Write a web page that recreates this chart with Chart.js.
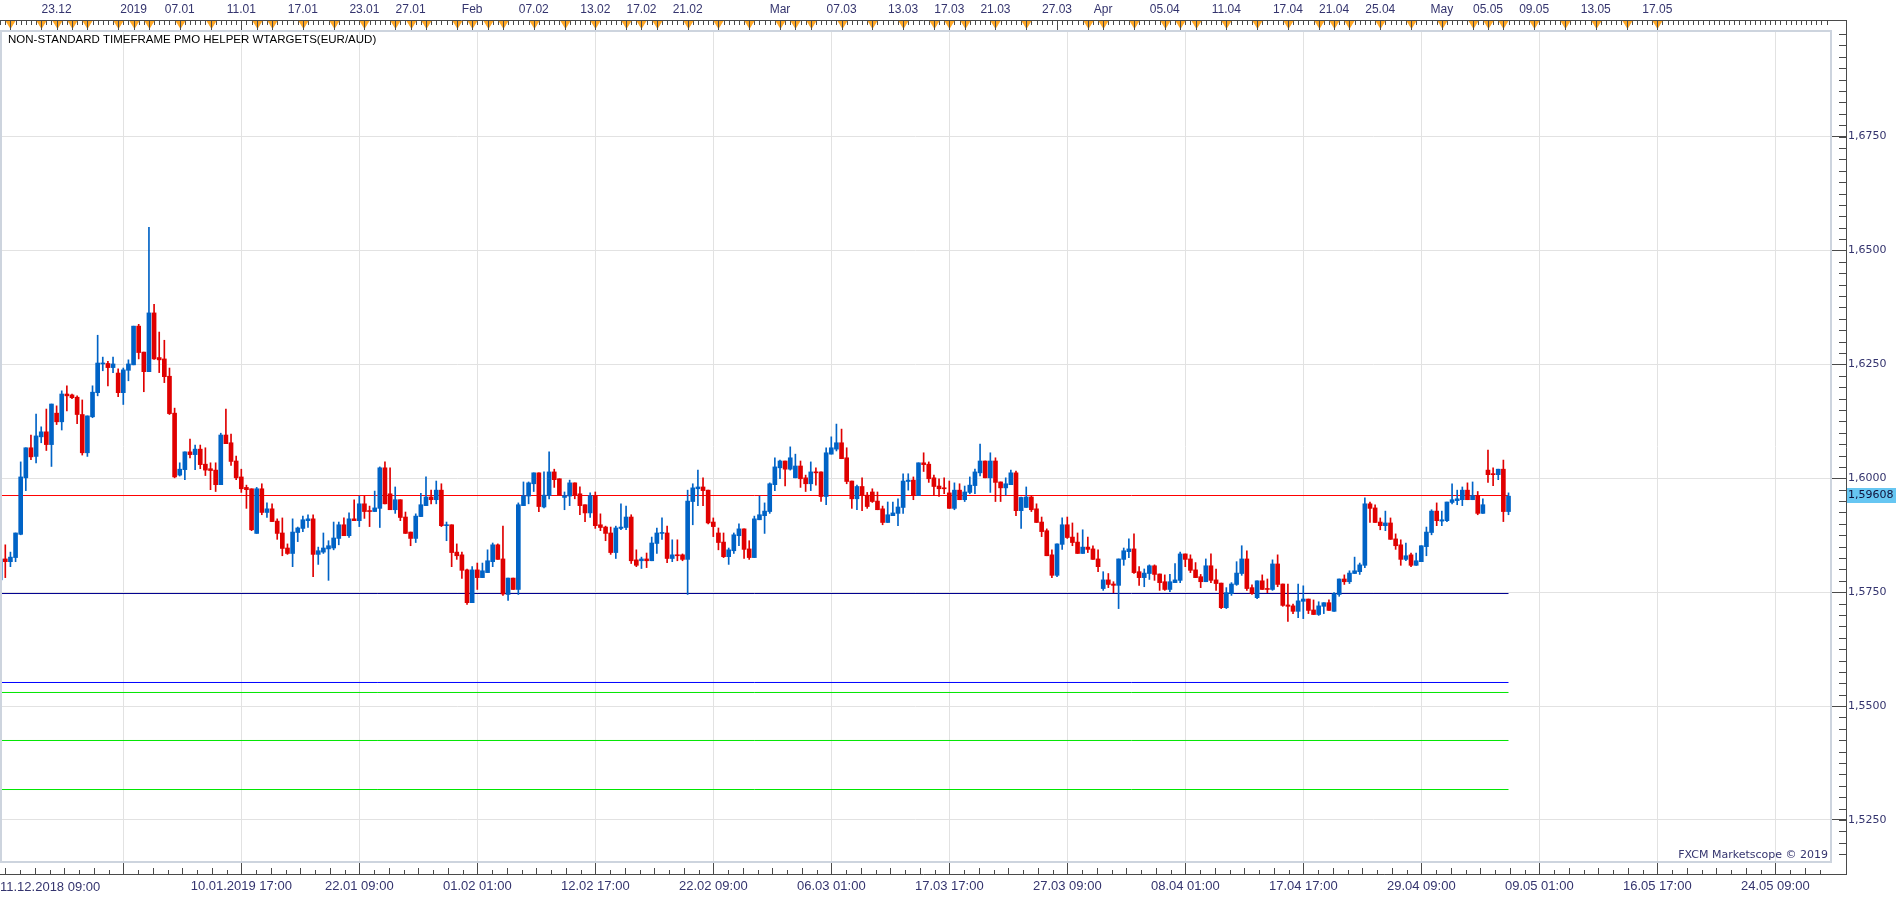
<!DOCTYPE html>
<html><head><meta charset="utf-8">
<script src="https://cdn.jsdelivr.net/npm/chart.js@4.4.1/dist/chart.umd.min.js"></script>
<style>html,body{margin:0;padding:0;background:#fff;overflow:hidden}canvas{display:block}</style>
</head><body>
<canvas id="c" width="1903" height="900" style="width:1903px;height:900px"></canvas>
<script>
// ---- data (EUR/AUD, 8h bars) ----
const opens = [1.5777,1.5823,1.5817,1.5826,1.5877,1.6001,1.6067,1.6048,1.6091,1.6102,1.6074,1.6143,1.6124,1.6185,1.6183,1.6178,1.6140,1.6056,1.6135,1.6188,
1.6251,1.6252,1.6243,1.6231,1.6188,1.6237,1.6249,1.6334,1.6277,1.6234,1.6363,1.6265,1.6262,1.6224,1.6143,1.6007,1.6019,1.6058,1.6052,1.6064,
1.6031,1.6021,1.6018,1.5986,1.6095,1.6078,1.6038,1.6003,1.5980,1.5977,1.5879,1.5977,1.5925,1.5933,1.5906,1.5880,1.5847,1.5835,1.5881,1.5890,
1.5907,1.5911,1.5833,1.5838,1.5845,1.5847,1.5868,1.5898,1.5874,1.5911,1.5907,1.5944,1.5929,1.5927,1.5934,1.6023,1.5966,1.5931,1.5953,1.5915,
1.5882,1.5868,1.5916,1.5940,1.5959,1.5953,1.5974,1.5896,1.5898,1.5838,1.5832,1.5799,1.5727,1.5799,1.5782,1.5793,1.5817,1.5854,1.5823,1.5745,
1.5781,1.5756,1.5940,1.5961,1.5988,1.6012,1.5937,1.5962,1.6014,1.5999,1.5958,1.5961,1.5990,1.5966,1.5942,1.5924,1.5962,1.5898,1.5893,1.5880,
1.5837,1.5890,1.5892,1.5915,1.5821,1.5819,1.5823,1.5819,1.5857,1.5879,1.5880,1.5824,1.5832,1.5832,1.5822,1.5949,1.5977,1.5981,1.5974,1.5904,
1.5880,1.5860,1.5828,1.5841,1.5874,1.5889,1.5845,1.5826,1.5909,1.5918,1.5927,1.5986,1.6023,1.6038,1.6020,1.6001,1.6027,1.6001,1.5988,1.6014,
1.6014,1.5960,1.6053,1.6064,1.6078,1.6045,1.5994,1.5955,1.5982,1.5963,1.5970,1.5950,1.5933,1.5903,1.5918,1.5923,1.5936,1.5993,1.5996,1.5962,
1.6034,1.6031,1.6001,1.5983,1.5979,1.5968,1.5934,1.5974,1.5953,1.5969,1.5984,1.6012,1.6038,1.6001,1.6038,1.5992,1.5979,1.5986,1.6012,1.5929,
1.5936,1.5959,1.5933,1.5904,1.5885,1.5832,1.5787,1.5855,1.5898,1.5871,1.5860,1.5835,1.5849,1.5845,1.5823,1.5758,1.5777,1.5768,1.5765,1.5822,
1.5839,1.5845,1.5795,1.5782,1.5791,1.5808,1.5790,1.5773,1.5756,1.5771,1.5776,1.5834,1.5823,1.5799,1.5784,1.5773,1.5808,1.5777,1.5770,1.5716,
1.5747,1.5767,1.5791,1.5823,1.5760,1.5738,1.5775,1.5758,1.5756,1.5812,1.5768,1.5722,1.5720,1.5708,1.5730,1.5735,1.5711,1.5701,1.5719,1.5727,
1.5708,1.5745,1.5779,1.5773,1.5791,1.5795,1.5809,1.5944,1.5935,1.5904,1.5896,1.5902,1.5867,1.5854,1.5822,1.5832,1.5809,1.5817,1.5850,1.5881,
1.5928,1.5906,1.5907,1.5947,1.5951,1.5953,1.5974,1.5953,1.5962,1.5923,1.6018,1.6010,1.6008,1.6020,1.5927];
const highs = [1.5828,1.5854,1.5838,1.5880,1.6036,1.6067,1.6095,1.6141,1.6113,1.6152,1.6163,1.6159,1.6192,1.6203,1.6185,1.6181,1.6172,1.6137,1.6203,1.6314,
1.6266,1.6257,1.6266,1.6240,1.6242,1.6260,1.6334,1.6338,1.6277,1.6551,1.6382,1.6321,1.6303,1.6242,1.6154,1.6034,1.6058,1.6086,1.6073,1.6073,
1.6067,1.6034,1.6034,1.6099,1.6152,1.6097,1.6049,1.6020,1.5985,1.5977,1.5980,1.5988,1.5946,1.5944,1.5911,1.5913,1.5856,1.5911,1.5893,1.5917,
1.5920,1.5920,1.5849,1.5880,1.5863,1.5904,1.5904,1.5913,1.5924,1.5953,1.5961,1.5961,1.5939,1.5972,1.6025,1.6036,1.6023,1.5981,1.5953,1.5926,
1.5882,1.5922,1.5967,1.6003,1.5974,1.5994,1.5988,1.5904,1.5898,1.5856,1.5838,1.5801,1.5806,1.5814,1.5814,1.5843,1.5858,1.5856,1.5895,1.5781,
1.5781,1.5946,1.5992,1.5992,1.6012,1.6012,1.6014,1.6058,1.6020,1.5999,1.5970,1.5996,1.5990,1.5981,1.5942,1.5968,1.5970,1.5922,1.5895,1.5893,
1.5895,1.5944,1.5939,1.5920,1.5843,1.5827,1.5836,1.5871,1.5891,1.5913,1.5895,1.5865,1.5865,1.5834,1.5974,1.5988,1.6018,1.6001,1.5974,1.5913,
1.5891,1.5880,1.5847,1.5880,1.5900,1.5889,1.5863,1.5917,1.5961,1.5946,1.5990,1.6045,1.6040,1.6038,1.6069,1.6053,1.6038,1.6007,1.6036,1.6023,
1.6014,1.6067,1.6091,1.6119,1.6108,1.6067,1.5994,1.5985,1.6001,1.5969,1.5977,1.5970,1.5939,1.5948,1.5948,1.5955,1.6010,1.6010,1.6003,1.6034,
1.6056,1.6036,1.6007,1.5999,1.6001,1.5994,1.5990,1.5988,1.5983,1.6003,1.6020,1.6075,1.6038,1.6056,1.6045,1.5992,1.6001,1.6018,1.6016,1.5959,
1.5981,1.5961,1.5944,1.5915,1.5889,1.5843,1.5856,1.5913,1.5915,1.5902,1.5880,1.5887,1.5871,1.5852,1.5843,1.5795,1.5791,1.5773,1.5823,1.5847,
1.5867,1.5878,1.5806,1.5801,1.5810,1.5810,1.5790,1.5788,1.5789,1.5813,1.5838,1.5834,1.5832,1.5815,1.5789,1.5823,1.5834,1.5801,1.5770,1.5760,
1.5771,1.5817,1.5852,1.5841,1.5766,1.5775,1.5788,1.5779,1.5821,1.5832,1.5768,1.5768,1.5724,1.5768,1.5764,1.5735,1.5733,1.5729,1.5727,1.5733,
1.5749,1.5779,1.5788,1.5797,1.5827,1.5814,1.5957,1.5948,1.5942,1.5913,1.5928,1.5913,1.5878,1.5865,1.5858,1.5836,1.5836,1.5852,1.5893,1.5931,
1.5946,1.5928,1.5948,1.5988,1.5974,1.5981,1.5990,1.5992,1.5971,1.5955,1.6062,1.6023,1.6020,1.6040,1.5968];
const lows = [1.5773,1.5782,1.5806,1.5817,1.5876,1.5973,1.6041,1.6034,1.6078,1.6061,1.6026,1.6118,1.6106,1.6148,1.6175,1.6120,1.6051,1.6048,1.6133,1.6181,
1.6236,1.6203,1.6232,1.6179,1.6162,1.6214,1.6249,1.6262,1.6190,1.6234,1.6261,1.6232,1.6210,1.6140,1.6001,1.6005,1.5997,1.6045,1.6019,1.6021,
1.6006,1.5975,1.5971,1.5986,1.6076,1.6028,1.5997,1.5969,1.5934,1.5885,1.5879,1.5920,1.5914,1.5905,1.5866,1.5830,1.5833,1.5806,1.5861,1.5883,
1.5892,1.5784,1.5811,1.5835,1.5776,1.5843,1.5854,1.5874,1.5870,1.5907,1.5894,1.5912,1.5894,1.5927,1.5892,1.5944,1.5931,1.5923,1.5907,1.5879,
1.5852,1.5859,1.5916,1.5940,1.5944,1.5944,1.5894,1.5863,1.5806,1.5822,1.5780,1.5723,1.5727,1.5756,1.5782,1.5793,1.5806,1.5822,1.5743,1.5732,
1.5756,1.5745,1.5940,1.5944,1.5971,1.5927,1.5935,1.5955,1.5980,1.5962,1.5931,1.5940,1.5955,1.5920,1.5905,1.5914,1.5890,1.5885,1.5863,1.5833,
1.5824,1.5887,1.5887,1.5813,1.5806,1.5802,1.5804,1.5819,1.5835,1.5866,1.5815,1.5817,1.5819,1.5819,1.5745,1.5898,1.5940,1.5940,1.5900,1.5872,
1.5843,1.5826,1.5811,1.5835,1.5852,1.5824,1.5822,1.5826,1.5909,1.5879,1.5923,1.5973,1.5999,1.5983,1.6018,1.6001,1.5980,1.5971,1.5973,1.5985,
1.5949,1.5942,1.6053,1.6060,1.6043,1.5988,1.5934,1.5931,1.5929,1.5934,1.5947,1.5931,1.5898,1.5903,1.5918,1.5896,1.5923,1.5974,1.5953,1.5962,
1.6015,1.5991,1.5962,1.5960,1.5966,1.5934,1.5931,1.5953,1.5949,1.5966,1.5966,1.6005,1.6001,1.5969,1.5949,1.5949,1.5963,1.5986,1.5918,1.5890,
1.5936,1.5927,1.5903,1.5872,1.5830,1.5782,1.5784,1.5844,1.5868,1.5852,1.5835,1.5835,1.5837,1.5822,1.5795,1.5754,1.5760,1.5749,1.5714,1.5809,
1.5826,1.5791,1.5765,1.5762,1.5778,1.5776,1.5754,1.5754,1.5751,1.5771,1.5771,1.5806,1.5793,1.5782,1.5760,1.5773,1.5771,1.5754,1.5714,1.5714,
1.5743,1.5765,1.5787,1.5754,1.5745,1.5736,1.5756,1.5749,1.5754,1.5762,1.5719,1.5686,1.5703,1.5694,1.5692,1.5703,1.5701,1.5699,1.5703,1.5710,
1.5708,1.5741,1.5767,1.5769,1.5791,1.5789,1.5804,1.5903,1.5903,1.5887,1.5885,1.5866,1.5844,1.5809,1.5819,1.5806,1.5809,1.5817,1.5830,1.5876,
1.5896,1.5896,1.5905,1.5944,1.5942,1.5940,1.5953,1.5953,1.5920,1.5923,1.5991,1.5984,1.5997,1.5905,1.5920];
const closes = [1.5823,1.5817,1.5827,1.5880,1.6003,1.6067,1.6047,1.6093,1.6102,1.6074,1.6163,1.6124,1.6185,1.6181,1.6177,1.6140,1.6056,1.6137,1.6189,1.6253,
1.6253,1.6243,1.6251,1.6188,1.6238,1.6251,1.6334,1.6276,1.6234,1.6363,1.6262,1.6260,1.6223,1.6142,1.6003,1.6020,1.6058,1.6052,1.6064,1.6030,
1.6018,1.6017,1.5986,1.6095,1.6076,1.6037,1.6001,1.5977,1.5975,1.5887,1.5977,1.5925,1.5933,1.5905,1.5879,1.5846,1.5835,1.5882,1.5891,1.5909,
1.5911,1.5833,1.5841,1.5847,1.5852,1.5869,1.5898,1.5874,1.5911,1.5907,1.5944,1.5927,1.5927,1.5935,1.6023,1.5944,1.5931,1.5953,1.5914,1.5879,
1.5868,1.5917,1.5942,1.5959,1.5953,1.5974,1.5896,1.5898,1.5837,1.5830,1.5798,1.5727,1.5799,1.5782,1.5797,1.5819,1.5854,1.5822,1.5746,1.5781,
1.5756,1.5942,1.5962,1.5990,1.6012,1.5938,1.5963,1.6014,1.5997,1.5962,1.5962,1.5990,1.5962,1.5940,1.5924,1.5962,1.5896,1.5892,1.5879,1.5837,
1.5891,1.5893,1.5915,1.5819,1.5809,1.5823,1.5819,1.5858,1.5880,1.5880,1.5824,1.5832,1.5830,1.5822,1.5950,1.5979,1.5981,1.5973,1.5902,1.5894,
1.5859,1.5828,1.5843,1.5876,1.5889,1.5844,1.5826,1.5911,1.5920,1.5928,1.5988,1.6025,1.6038,1.6020,1.6045,1.6027,1.5999,1.5988,1.6014,1.6012,
1.5960,1.6056,1.6067,1.6078,1.6043,1.5993,1.5955,1.5982,1.5963,1.5938,1.5949,1.5931,1.5903,1.5920,1.5924,1.5937,1.5994,1.5996,1.5962,1.6034,
1.6030,1.5999,1.5982,1.5977,1.5977,1.5934,1.5974,1.5953,1.5970,1.5985,1.6014,1.6038,1.6001,1.6038,1.5991,1.5979,1.5988,1.6012,1.5929,1.5958,
1.5959,1.5931,1.5903,1.5883,1.5830,1.5787,1.5856,1.5898,1.5870,1.5859,1.5835,1.5849,1.5844,1.5822,1.5806,1.5777,1.5767,1.5765,1.5823,1.5841,
1.5845,1.5793,1.5782,1.5792,1.5808,1.5789,1.5771,1.5756,1.5773,1.5777,1.5834,1.5822,1.5798,1.5782,1.5773,1.5808,1.5776,1.5769,1.5716,1.5749,
1.5768,1.5792,1.5823,1.5758,1.5747,1.5775,1.5756,1.5756,1.5812,1.5767,1.5721,1.5719,1.5708,1.5731,1.5735,1.5710,1.5701,1.5720,1.5727,1.5710,
1.5747,1.5779,1.5773,1.5792,1.5797,1.5810,1.5944,1.5934,1.5903,1.5896,1.5902,1.5866,1.5852,1.5822,1.5830,1.5809,1.5819,1.5852,1.5882,1.5928,
1.5907,1.5909,1.5948,1.5953,1.5955,1.5974,1.5953,1.5962,1.5923,1.5942,1.6008,1.6008,1.6020,1.5927,1.59608];

const priceTicks = [1.5250, 1.5500, 1.5750, 1.6000, 1.6250, 1.6500, 1.6750];
const bottomTickBars = [24, 47, 70, 93, 116, 139, 162, 185, 208, 231, 254, 277, 300, 323, 346];
const bottomTickLabels = ['', '10.01.2019 17:00', '22.01 09:00', '01.02 01:00', '12.02 17:00', '22.02 09:00', '06.03 01:00', '17.03 17:00', '27.03 09:00', '08.04 01:00', '17.04 17:00', '29.04 09:00', '09.05 01:00', '16.05 17:00', '24.05 09:00'];
const firstBottomLabel = '11.12.2018 09:00';
const topTickBars = [11, 26, 35, 47, 59, 71, 80, 92, 104, 116, 125, 134, 152, 164, 176, 185, 194, 206, 215, 227, 239, 251, 260, 269, 281, 290, 299, 311, 323];
const topTickLabels = ['23.12', '2019', '07.01', '11.01', '17.01', '23.01', '27.01', 'Feb', '07.02', '13.02', '17.02', '21.02', 'Mar', '07.03', '13.03', '17.03', '21.03', '27.03', 'Apr', '05.04', '11.04', '17.04', '21.04', '25.04', 'May', '05.05', '09.05', '13.05', '17.05'];
const eventBars = [2, 8, 11, 14, 17, 23, 26, 29, 35, 41, 50, 53, 59, 65, 71, 77, 80, 83, 89, 92, 95, 98, 104, 110, 116, 122, 125, 128, 134, 140, 146, 152, 155, 158, 164, 170, 176, 182, 185, 188, 194, 200, 212, 215, 221, 227, 230, 233, 239, 245, 251, 257, 260, 263, 269, 275, 281, 287, 290, 293, 299, 305, 311, 317, 323];
const levelValues = [1.59622, 1.57471, 1.55518, 1.55299, 1.54245, 1.53169];
const levelColors = ['#ff0000', '#000090', '#0000ff', '#00e600', '#00e600', '#00e600'];
const currentPrice = 1.59608;
const titleText = 'NON-STANDARD TIMEFRAME PMO HELPER WTARGETS(EUR/AUD)';
const copyrightText = 'FXCM Marketscope \u00A9 2019';

// ---- chart ----
const X_MIN = -0.033, X_MAX = 356.86;
const Y_MIN = 1.515781, Y_MAX = 1.698178;
const UP = '#0063c6', DOWN = '#e00000';
const AXIS_TXT = '#34346e';
const n = closes.length;
const candleColors = closes.map((c, i) => c >= opens[i] ? UP : DOWN);
const bodies = closes.map((c, i) => ({x: i, y: [opens[i], c]}));
const wicks = closes.map((c, i) => ({x: i, y: [lows[i], highs[i]]}));
const levelSets = levelValues.map((v, k) => ({
  type: 'line', data: [{x: X_MIN, y: v}, {x: n - 1, y: v}], borderColor: levelColors[k],
  borderWidth: 1, pointRadius: 0, order: 5, xAxisID: 'x', yAxisID: 'y'
}));

const decor = {
  id: 'decor',
  afterDraw(chart) {
    const ctx = chart.ctx, a = chart.chartArea, x = chart.scales.x, y = chart.scales.y;
    const axisX = 1846, topAxisY = 20, botAxisY = 874;
    ctx.save();
    // plot frame
    ctx.strokeStyle = '#cdd4de'; ctx.lineWidth = 2;
    ctx.strokeRect(a.left + 1, a.top, a.right - a.left - 1, a.bottom - a.top);
    // axis lines
    ctx.strokeStyle = '#4a4a4a'; ctx.lineWidth = 1;
    ctx.beginPath();
    ctx.moveTo(0, topAxisY + 0.5); ctx.lineTo(axisX + 0.5, topAxisY + 0.5);
    ctx.moveTo(axisX + 0.5, topAxisY); ctx.lineTo(axisX + 0.5, botAxisY + 1);
    ctx.moveTo(0, botAxisY + 0.5); ctx.lineTo(axisX + 0.5, botAxisY + 0.5);
    // y minor ticks
    for (let k = Math.ceil(Y_MIN / 0.0025); k * 0.0025 <= Y_MAX; k++) {
      const py = Math.round(y.getPixelForValue(k * 0.0025)) + 0.5;
      ctx.moveTo(axisX - 7, py); ctx.lineTo(axisX, py);
    }
    // bottom minor ticks
    for (let k = -8; ; k++) {
      const b = 24 + k * 23 / 8;
      if (b > X_MAX) break;
      if (b < X_MIN) continue;
      const px = Math.round(x.getPixelForValue(b)) + 0.5;
      ctx.moveTo(px, botAxisY); ctx.lineTo(px, botAxisY - (k % 2 ? 4 : 6));
    }
    // top small ticks (every bar) and longer ticks at labelled dates
    for (let b = 0; b <= X_MAX; b++) {
      const px = Math.round(x.getPixelForValue(b)) + 0.5;
      ctx.moveTo(px, topAxisY); ctx.lineTo(px, topAxisY + 5);
    }
    topTickBars.forEach(b => {
      const px = Math.round(x.getPixelForValue(b)) + 0.5;
      ctx.moveTo(px, topAxisY); ctx.lineTo(px, a.top - 1);
    });
    ctx.stroke();
    // event markers
    ctx.fillStyle = '#ffa724';
    eventBars.forEach(b => {
      const px = Math.round(x.getPixelForValue(b)) + 0.5;
      ctx.beginPath();
      ctx.moveTo(px - 5, topAxisY + 1); ctx.lineTo(px + 5, topAxisY + 1); ctx.lineTo(px, topAxisY + 9);
      ctx.closePath(); ctx.fill();
    });
    ctx.strokeStyle = '#4a4a4a'; ctx.beginPath();
    eventBars.forEach(b => {
      const px = Math.round(x.getPixelForValue(b)) + 0.5;
      ctx.moveTo(px, topAxisY); ctx.lineTo(px, topAxisY + 10);
    });
    ctx.stroke();
    // current price box
    const py = y.getPixelForValue(currentPrice);
    ctx.fillStyle = '#66c6f2';
    ctx.fillRect(axisX + 1, Math.round(py) - 8, 49, 15);
    ctx.fillStyle = '#10103a';
    ctx.font = '11px "DejaVu Sans"'; ctx.textBaseline = 'middle'; ctx.textAlign = 'left';
    ctx.fillText(currentPrice.toFixed(5).replace('.', ','), axisX + 2, Math.round(py) - 0.5);
    // texts
    ctx.fillStyle = '#000';
    ctx.font = '11.5px "Liberation Sans"';
    ctx.fillText(titleText, 8, 40);
    ctx.fillStyle = AXIS_TXT;
    ctx.font = '13px "Liberation Sans"';
    ctx.fillText(firstBottomLabel, 0, 887);
    ctx.font = '11px "DejaVu Sans"'; ctx.textAlign = 'right';
    ctx.fillText(copyrightText, a.right - 3, 855);
    ctx.restore();
  }
};

new Chart(document.getElementById('c'), {
  type: 'bar',
  data: {
    datasets: [
      {data: bodies, backgroundColor: candleColors, barThickness: 4, minBarLength: 1, grouped: false, order: 1, xAxisID: 'x', yAxisID: 'y'},
      {data: wicks, backgroundColor: candleColors, barThickness: 1, grouped: false, order: 2, xAxisID: 'x', yAxisID: 'y'},
      ...levelSets
    ]
  },
  options: {
    responsive: false, animation: false, devicePixelRatio: 1,
    layout: {padding: 0},
    plugins: {legend: {display: false}, tooltip: {enabled: false}},
    scales: {
      x: {
        type: 'linear', position: 'bottom', min: X_MIN, max: X_MAX, offset: false,
        afterBuildTicks: s => { s.ticks = bottomTickBars.map(v => ({value: v})); },
        afterFit: s => { s.height = 38; },
        grid: {offset: false, color: '#e2e2e2', lineWidth: 1, drawTicks: true, tickLength: 12, tickColor: '#4a4a4a', tickWidth: 1},
        border: {display: false},
        ticks: {autoSkip: false, maxRotation: 0, minRotation: 0, padding: 5, color: AXIS_TXT,
          font: {family: 'Liberation Sans', size: 13},
          callback: (v, i) => bottomTickLabels[i]}
      },
      xTop: {
        type: 'linear', position: 'top', min: X_MIN, max: X_MAX, offset: false,
        afterBuildTicks: s => { s.ticks = topTickBars.map(v => ({value: v})); },
        afterFit: s => { s.height = 31; },
        grid: {offset: false, drawOnChartArea: false, drawTicks: false},
        border: {display: false},
        ticks: {autoSkip: false, maxRotation: 0, minRotation: 0, padding: 14, color: AXIS_TXT,
          font: {family: 'Liberation Sans', size: 12},
          callback: (v, i) => topTickLabels[i]}
      },
      y: {
        type: 'linear', position: 'right', min: Y_MIN, max: Y_MAX, beginAtZero: false,
        afterBuildTicks: s => { s.ticks = priceTicks.map(v => ({value: v})); },
        afterFit: s => { s.width = 72; },
        grid: {color: '#e2e2e2', lineWidth: 1, drawTicks: true, tickLength: 15, tickColor: '#4a4a4a'},
        border: {display: false},
        ticks: {padding: 2, color: AXIS_TXT, font: {family: 'DejaVu Sans', size: 11},
          callback: v => v.toFixed(4).replace('.', ',')}
      }
    }
  },
  plugins: [decor]
});
</script>
</body></html>
